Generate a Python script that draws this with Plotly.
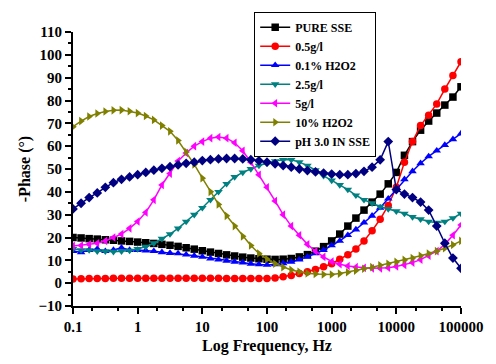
import plotly.graph_objects as go

freq = [0.1, 0.1334, 0.1778, 0.2371, 0.3162, 0.4217, 0.5623, 0.7499,
        1.0, 1.334, 1.778, 2.371, 3.162, 4.217, 5.623, 7.499,
        10.0, 13.34, 17.78, 23.71, 31.62, 42.17, 56.23, 74.99,
        100.0, 133.4, 177.8, 237.1, 316.2, 421.7, 562.3, 749.9,
        1000.0, 1334.0, 1778.0, 2371.0, 3162.0, 4217.0, 5623.0, 7499.0,
        10000.0, 13340.0, 17780.0, 23710.0, 31620.0, 42170.0, 56230.0, 74990.0,
        100000.0]

pure_sse = [20, 19.8, 19.5, 19.3, 19, 18.8, 18.5, 18.3,
            18, 17.7, 17.4, 17, 16.6, 16.1, 15.5, 14.9,
            14.2, 13.6, 13, 12.4, 11.9, 11.4, 11, 10.7,
            10.5, 10.4, 10.5, 10.8, 11.5, 12.5, 14, 16,
            18.5, 21.5, 25, 28.5, 32, 35.5, 39, 43.5,
            48.5, 56, 62, 67, 71, 74.5, 78, 81.5,
            86]

g05 = [1.8, 1.9, 2.0, 2.0, 2.0, 2.1, 2.1, 2.1,
       2.1, 2.1, 2.1, 2.1, 2.1, 2.1, 2.1, 2.1,
       2.1, 2.1, 2.1, 2.0, 2.0, 2.0, 2.0, 2.0,
       2.0, 2.3, 2.8, 3.4, 4.2, 5, 6, 7.2,
       8.5, 10.5, 12.5, 15, 18.5, 23, 28, 34,
       42, 53, 62, 69, 73.5, 78.5, 85, 91,
       97]

h2o2_01 = [14, 13.5, 14.5, 15, 14, 14.5, 15.5, 14.5,
           14.5, 14.3, 14, 13.5, 13.2, 13, 12.5, 12,
           11.5, 10.8, 10.3, 9.8, 9.3, 9, 8.5, 8.2,
           8, 8.2, 8.7, 9.3, 10.3, 11.5, 13, 14.5,
           16.5, 18.5, 21, 23.5, 26.5, 29.5, 33, 37,
           41, 45.5, 49, 52.5, 55.5, 58, 60.5, 63,
           65.5]

g25 = [15, 14.5, 14.5, 14, 14, 13.8, 14, 14.3,
       15, 16, 17.5, 19.5, 21.5, 24, 27, 30,
       33, 36.5, 40, 43.5, 46.5, 48.5, 50, 51.5,
       52.5, 53.5, 54, 54, 53, 51.5, 49.5, 47,
       45, 43, 41, 38.5, 36.5, 35, 33.5, 32.5,
       31.5, 30.5, 29, 28, 27, 26.5, 27, 28.5,
       30.5]

g5 = [16.3, 16.5, 17, 17.5, 18.5, 20, 21.5, 24,
      27, 31, 36.5, 43, 48, 53.5, 57, 60,
      62, 63.5, 64, 63.5, 61.5, 58, 53, 47.5,
      42, 36, 30, 25, 21, 17, 14, 11.5,
      9.5, 8.3, 7.5, 7, 6.7, 6.5, 6.5, 6.8,
      7.3, 8, 9, 10.3, 12, 14, 17, 21,
      25.5]

h2o2_10 = [68.5, 71, 73, 74.3, 75.2, 75.7, 75.8, 75.3,
           74.5, 73.2, 71.5, 69, 66.5, 62.5, 57.5, 52,
           46, 40, 34.5, 29.5, 25, 20.5, 16.5, 13,
           10.5, 8.5, 7, 5.8, 5, 4.3, 4, 3.8,
           3.8, 4.2, 4.8, 5.5, 6.3, 7, 7.8, 8.5,
           9.3, 10.2, 11, 12, 13, 14, 15.3, 16.8,
           18.5]

ph3 = [32.5, 35, 37.5, 39.5, 42, 44, 45.5, 46.5,
       47.5, 48.5, 49.5, 50.3, 51, 51.8, 52.5, 53,
       53.7, 54.1, 54.4, 54.6, 54.6, 54.4, 54.1, 53.6,
       53, 52.3, 51.5, 50.8, 50, 49.3, 48.7, 48.2,
       47.8, 47.5, 47.5, 48, 49, 50.8, 54, 62,
       41, 39, 37.5, 35.5, 32, 25, 17.5, 11,
       6.5]

series = [
    ("PURE SSE", pure_sse, "#000000", "square"),
    ("0.5g/l", g05, "#FF0000", "circle"),
    ("0.1% H2O2", h2o2_01, "#0000FF", "triangle-up"),
    ("2.5g/l", g25, "#008080", "triangle-down"),
    ("5g/l", g5, "#FF00FF", "triangle-left"),
    ("10% H2O2", h2o2_10, "#808000", "triangle-right"),
    ("pH 3.0 IN SSE", ph3, "#000080", "diamond"),
]

fig = go.Figure()
for name, vals, col, sym in series:
    fig.add_trace(go.Scatter(
        x=freq, y=vals, name=name, mode="lines+markers",
        line=dict(color=col, width=1.5),
        marker=dict(symbol=sym, size=7.5, color=col, line=dict(width=0)),
    ))

font_family = "Liberation Serif, Times New Roman, serif"
fig.update_layout(
    width=496, height=364,
    margin=dict(l=73, r=29, t=32, b=50),
    paper_bgcolor="white", plot_bgcolor="white",
    font=dict(family=font_family, color="black"),
    showlegend=True,
    legend=dict(
        x=0.467, y=1.074, xanchor="left", yanchor="top",
        bgcolor="white", bordercolor="black", borderwidth=1,
        font=dict(size=12, family=font_family, weight="bold"),
        tracegroupgap=0, itemwidth=30,
    ),
)
fig.update_xaxes(
    type="log", range=[-1, 5],
    tickvals=[0.1, 1, 10, 100, 1000, 10000, 100000],
    ticktext=["0.1", "1", "10", "100", "1000", "10000", "100000"],
    showline=True, linecolor="black", linewidth=2,
    ticks="outside", ticklen=6, tickwidth=2, tickcolor="black",
    minor=dict(ticks="outside", ticklen=3, tickwidth=1.5, tickcolor="black", showgrid=False),
    showgrid=False, zeroline=False,
    tickfont=dict(size=15, family=font_family, weight="bold"),
    title=dict(text="Log Frequency, Hz", font=dict(size=16, family=font_family, weight="bold"), standoff=6),
)
fig.update_yaxes(
    range=[-10, 110], dtick=10, tick0=0,
    showline=True, linecolor="black", linewidth=2,
    ticks="outside", ticklen=6, tickwidth=2, tickcolor="black",
    minor=dict(ticks="outside", ticklen=3, tickwidth=1.5, tickcolor="black", dtick=5, showgrid=False),
    showgrid=False, zeroline=False,
    tickfont=dict(size=15, family=font_family, weight="bold"),
    title=dict(text="-Phase (°)", font=dict(size=16, family=font_family, weight="bold"), standoff=4),
)

fig.write_html("out.html")
